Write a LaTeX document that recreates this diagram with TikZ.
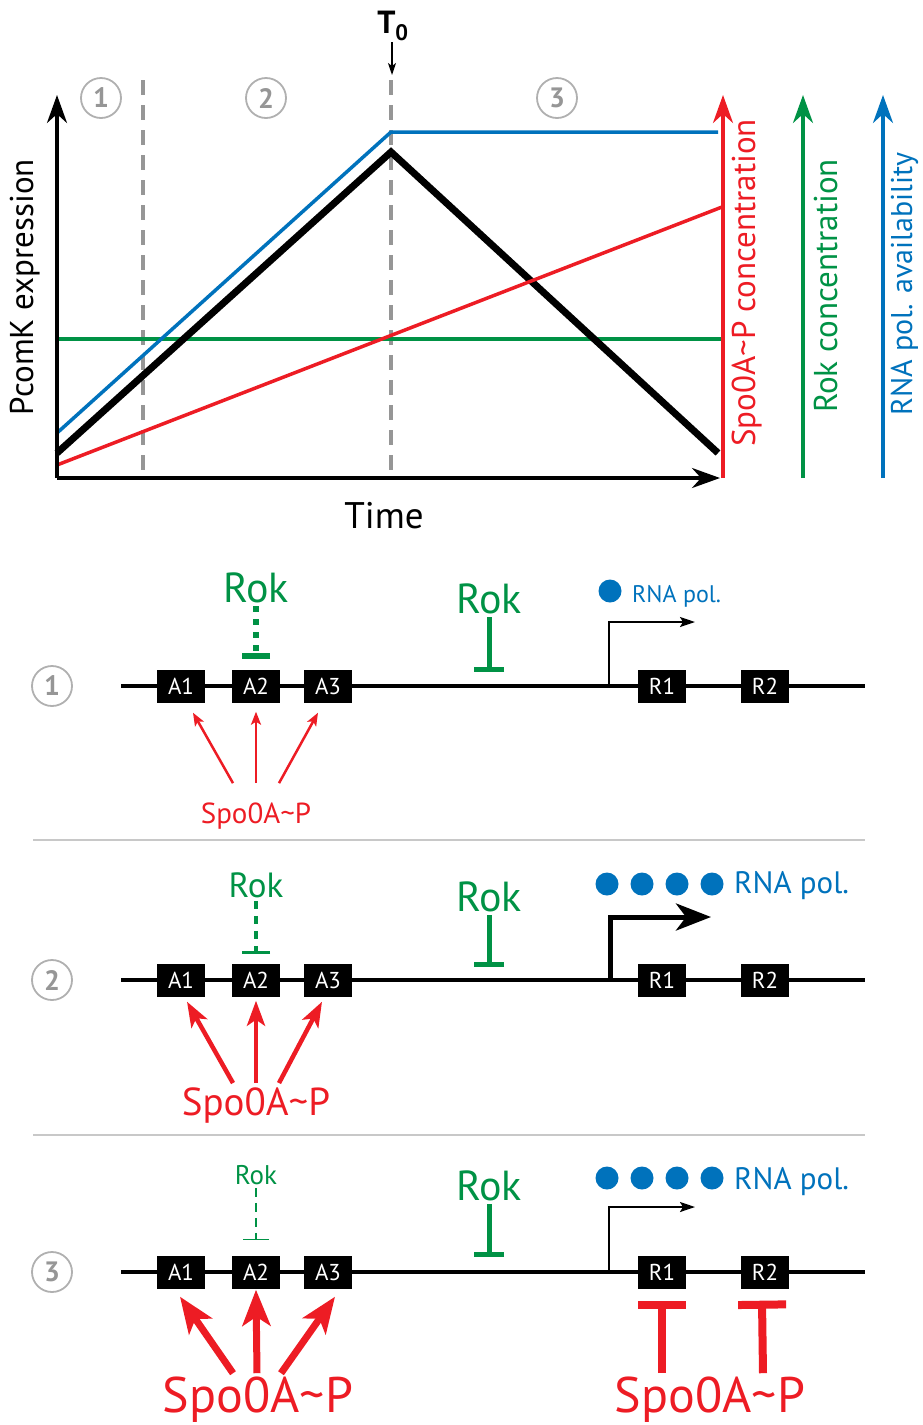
\documentclass[tikz,border=0pt]{standalone}
\usepackage{fontspec}
\setmainfont{PT Sans}
\usetikzlibrary{arrows.meta,positioning}
\definecolor{spored}{RGB}{237,28,36}
\definecolor{rokgreen}{RGB}{0,146,69}
\definecolor{polblue}{RGB}{0,114,188}
\definecolor{phasegray}{RGB}{150,150,150}
\definecolor{rulegray}{RGB}{200,200,200}
\newcommand{\fsz}[1]{\fontsize{#1}{#1}\selectfont}
\tikzset{
  phase/.style = {circle, draw=phasegray!75, line width=1.8pt, text=phasegray,
    minimum size=40pt, inner sep=0pt, font=\fsz{28}\bfseries},
  site/.style = {fill=black, text=white, minimum width=48pt, minimum height=33pt,
    inner sep=0pt, font=\fsz{23}},
  dna/.style = {line width=4pt},
  rok/.style = {text=rokgreen, inner sep=3pt},
  spo/.style = {text=spored, inner sep=3pt, anchor=base},
  pol/.style = {text=polblue, inner sep=0pt, anchor=base west},
  poldot/.style = {circle, fill=polblue, minimum size=23pt, inner sep=0pt},
  axis/.style = {line width=3.5pt, -{Stealth[length=28pt,width=20pt,inset=9pt]}},
  curve/.style = {line width=3.5pt},
  divider/.style = {phasegray, line width=4pt, dash pattern=on 15pt off 10pt},
  axlabel/.style = {rotate=90, anchor=base, inner sep=0pt, font=\fsz{33}},
  tss/.style = {line width=2pt, -{Stealth[length=15pt,width=10pt,inset=3pt]}},
  rokbar/.style = {rokgreen, line width=5pt, -{Bar[width=30pt]}},
  % activation by Spo0A~P
  act/.style = {spored, line width=2.5pt, -{Stealth[length=13pt,width=10pt,inset=3pt]}}
}

\begin{document}
\begin{tikzpicture}[x=1pt,y=-1pt]
\useasboundingbox (0,0) rectangle (923,1425);

% ---- graph ----
\coordinate (orig) at (57,478);
\coordinate (ytip) at (57,95);
\coordinate (xtip) at (720,478);
\coordinate (div1t) at (143,80);
\coordinate (div1b) at (143,478);
\coordinate (div2t) at (391,80);
\coordinate (div2b) at (391,478);
\draw[divider] (div1t) -- (div1b);
\draw[divider] (div2t) -- (div2b);

\node[font=\fsz{32}\bfseries, inner sep=1pt] (tnull) at (393,26) {T\textsubscript{0}};
\coordinate (tnullend) at (392,75);
\draw[line width=1.3pt, -{Stealth[length=12pt,width=8pt,inset=3pt]}] (tnull.south -| tnullend) -- (tnullend);

\node[phase] (gph1) at (101,98) {1};
\node[phase] (gph2) at (266,98) {2};
\node[phase] (gph3) at (557,98) {3};

\coordinate (g0) at (57,339);
\coordinate (g1) at (722,339);
\coordinate (k0) at (57,453);
\coordinate (kp) at (391,152);
\coordinate (k1) at (718,453);
\coordinate (r0) at (57,465);
\coordinate (r1) at (722,207);
\coordinate (b0) at (57,433);
\coordinate (bp) at (391,132);
\coordinate (b1) at (718,132);
\draw[curve, rokgreen] (g0) -- (g1);
\draw[line width=7pt] (k0) -- (kp) -- (k1);
\draw[curve, spored] (r0) -- (r1);
\draw[curve, polblue] (b0) -- (bp) -- (b1);

\draw[axis] (orig) -- (ytip);
\draw[axis] (orig) -- (xtip);
\coordinate (sax0) at (723,478);
\coordinate (sax1) at (723,95);
\coordinate (rax0) at (803,478);
\coordinate (rax1) at (803,95);
\coordinate (pax0) at (883,478);
\coordinate (pax1) at (883,95);
\draw[axis, spored] (sax0) -- (sax1);
\draw[axis, rokgreen] (rax0) -- (rax1);
\draw[axis, polblue] (pax0) -- (pax1);

\node[axlabel] (ylab) at (33,287) {PcomK expression};
\node[axlabel, text=spored] (spolab) at (755,283) {Spo0A\textasciitilde P concentration};
\node[axlabel, text=rokgreen] (roklab) at (837,286) {Rok concentration};
\node[axlabel, text=polblue, font=\fsz{30}] (pollab) at (912,284) {RNA pol. availability};
\node[font=\fsz{37}, anchor=base, inner sep=0pt] (xlab) at (384,528) {Time};

% ---- separators ----
\coordinate (sep1l) at (33,840);
\coordinate (sep1r) at (865,840);
\coordinate (sep2l) at (33,1135);
\coordinate (sep2r) at (865,1135);
\draw[rulegray, line width=2.5pt] (sep1l) -- (sep1r);
\draw[rulegray, line width=2.5pt] (sep2l) -- (sep2r);

% ---- phase 1 ----
\begin{scope}[shift={(0,686)}]
  \node[phase] (ph1) at (52,0) {1};
  \coordinate (dnaL1) at (121,0);
  \coordinate (dnaR1) at (865,0);
  \draw[dna] (dnaL1) -- (dnaR1);
  \node[site] (A1a) at (181,0) {A1};
  \node[site] (A2a) at (256,0) {A2};
  \node[site] (A3a) at (328,0) {A3};
  \node[site] (R1a) at (662,0) {R1};
  \node[site] (R2a) at (765,0) {R2};

  \node[rok, font=\fsz{42}] (rokA1) at (256,-98) {Rok};
  \coordinate (barA1) at (256,-27);
  \draw[rokgreen, line width=6pt, dash pattern=on 6pt off 7pt, -{Bar[width=28pt]}] (rokA1.south) -- (barA1);
  \node[rok, font=\fsz{42}] (rokM1) at (489,-87) {Rok};
  \coordinate (barM1) at (489,-14);
  \draw[rokbar] (rokM1.south) -- (barM1);

  \coordinate (tss1) at (609,0);
  \coordinate (txn1) at (695,-64);
  \draw[tss] (tss1) |- (txn1);
  \node[poldot] (dot1) at (610,-95) {};
  \node[pol, font=\fsz{24}] (pol1) at (632,-84) {RNA pol.};

  \node[spo, font=\fsz{29}] (spo1) at (256,137) {Spo0A\textasciitilde P};
  \draw[act] ([xshift=-23pt,yshift=16pt]spo1.north) -- ([xshift=12pt,yshift=-10pt]A1a.south);
  \draw[act] ([yshift=16pt]spo1.north) -- ([yshift=-9pt]A2a.south);
  \draw[act] ([xshift=23pt,yshift=16pt]spo1.north) -- ([xshift=-10pt,yshift=-10pt]A3a.south);
\end{scope}

% ---- phase 2 ----
\begin{scope}[shift={(0,980)}]
  \node[phase] (ph2) at (52,0) {2};
  \coordinate (dnaL2) at (121,0);
  \coordinate (dnaR2) at (865,0);
  \draw[dna] (dnaL2) -- (dnaR2);
  \node[site] (A1b) at (181,0) {A1};
  \node[site] (A2b) at (256,0) {A2};
  \node[site] (A3b) at (328,0) {A3};
  \node[site] (R1b) at (662,0) {R1};
  \node[site] (R2b) at (765,0) {R2};

  \node[rok, font=\fsz{35}] (rokA2) at (256,-95) {Rok};
  \coordinate (barA2) at (256,-26);
  \draw[rokgreen, line width=3.5pt, dash pattern=on 8pt off 7pt, -{Bar[width=28pt]}] (rokA2.south) -- (barA2);
  \node[rok, font=\fsz{42}] (rokM2) at (489,-83) {Rok};
  \coordinate (barM2) at (489,-13);
  \draw[rokbar] (rokM2.south) -- (barM2);

  \coordinate (tss2) at (610,0);
  \coordinate (txn2) at (711,-63);
  \draw[line width=5pt, -{Stealth[length=35pt,width=27pt,inset=10pt]}] (tss2) |- (txn2);
  \foreach \px [count=\i] in {607,642,677,712}
    \node[poldot] (dot2\i) at (\px,-96) {};
  \node[pol, font=\fsz{31}] (pol2) at (734,-87) {RNA pol.};

  \node[spo, font=\fsz{39}] (spo2) at (256,135) {Spo0A\textasciitilde P};
  \draw[act, line width=4.5pt, -{Stealth[length=25pt,width=18pt,inset=6pt]}] ([xshift=-23pt,yshift=1pt]spo2.north) -- ([xshift=6pt,yshift=-5pt]A1b.south);
  \draw[act, line width=4.5pt, -{Stealth[length=25pt,width=18pt,inset=6pt]}] ([yshift=1pt]spo2.north) -- ([yshift=-4pt]A2b.south);
  \draw[act, line width=4.5pt, -{Stealth[length=25pt,width=18pt,inset=6pt]}] ([xshift=23pt,yshift=1pt]spo2.north) -- ([xshift=-6pt,yshift=-5pt]A3b.south);
\end{scope}

% ---- phase 3 ----
\begin{scope}[shift={(0,1272)}]
  \node[phase] (ph3) at (52,0) {3};
  \coordinate (dnaL3) at (121,0);
  \coordinate (dnaR3) at (865,0);
  \draw[dna] (dnaL3) -- (dnaR3);
  \node[site] (A1c) at (181,0) {A1};
  \node[site] (A2c) at (256,0) {A2};
  \node[site] (A3c) at (328,0) {A3};
  \node[site] (R1c) at (662,0) {R1};
  \node[site] (R2c) at (765,0) {R2};

  \node[rok, font=\fsz{27}] (rokA3) at (256,-97) {Rok};
  \coordinate (barA3) at (256,-32);
  \draw[rokgreen, line width=1.5pt, dash pattern=on 9pt off 6pt, -{Bar[width=26pt]}] (rokA3.south) -- (barA3);
  \node[rok, font=\fsz{42}] (rokM3) at (489,-86) {Rok};
  \coordinate (barM3) at (489,-15);
  \draw[rokbar] (rokM3.south) -- (barM3);

  \coordinate (tss3) at (609,0);
  \coordinate (txn3) at (695,-65);
  \draw[tss] (tss3) |- (txn3);
  \foreach \px [count=\i] in {607,642,677,712}
    \node[poldot] (dot3\i) at (\px,-94) {};
  \node[pol, font=\fsz{31}] (pol3) at (734,-83) {RNA pol.};

  \node[spo, font=\fsz{50}, inner sep=1pt] (spo3) at (258,140) {Spo0A\textasciitilde P};
  \draw[act, line width=7pt, -{Stealth[length=36pt,width=28pt,inset=9pt]}] ([xshift=-25pt,yshift=2pt]spo3.north) -- ([xshift=-1pt,yshift=-8pt]A1c.south);
  \draw[act, line width=7pt, -{Stealth[length=36pt,width=28pt,inset=9pt]}] ([xshift=-1pt,yshift=2pt]spo3.north) -- ([yshift=-1pt]A2c.south);
  \draw[act, line width=7pt, -{Stealth[length=36pt,width=28pt,inset=9pt]}] ([xshift=23pt,yshift=2pt]spo3.north) -- ([xshift=7pt,yshift=-8pt]A3c.south);

  \node[spo, font=\fsz{50}, inner sep=1pt] (spo4) at (710,140) {Spo0A\textasciitilde P};
  \draw[spored, line width=8pt, -{Bar[width=48pt]}] ([xshift=-48pt,yshift=2pt]spo4.north) -- ([yshift=-12pt]R1c.south);
  \draw[spored, line width=8pt, -{Bar[width=48pt]}] ([xshift=53pt,yshift=2pt]spo4.north) -- ([xshift=-3pt,yshift=-12pt]R2c.south);
\end{scope}
\end{tikzpicture}
\end{document}
